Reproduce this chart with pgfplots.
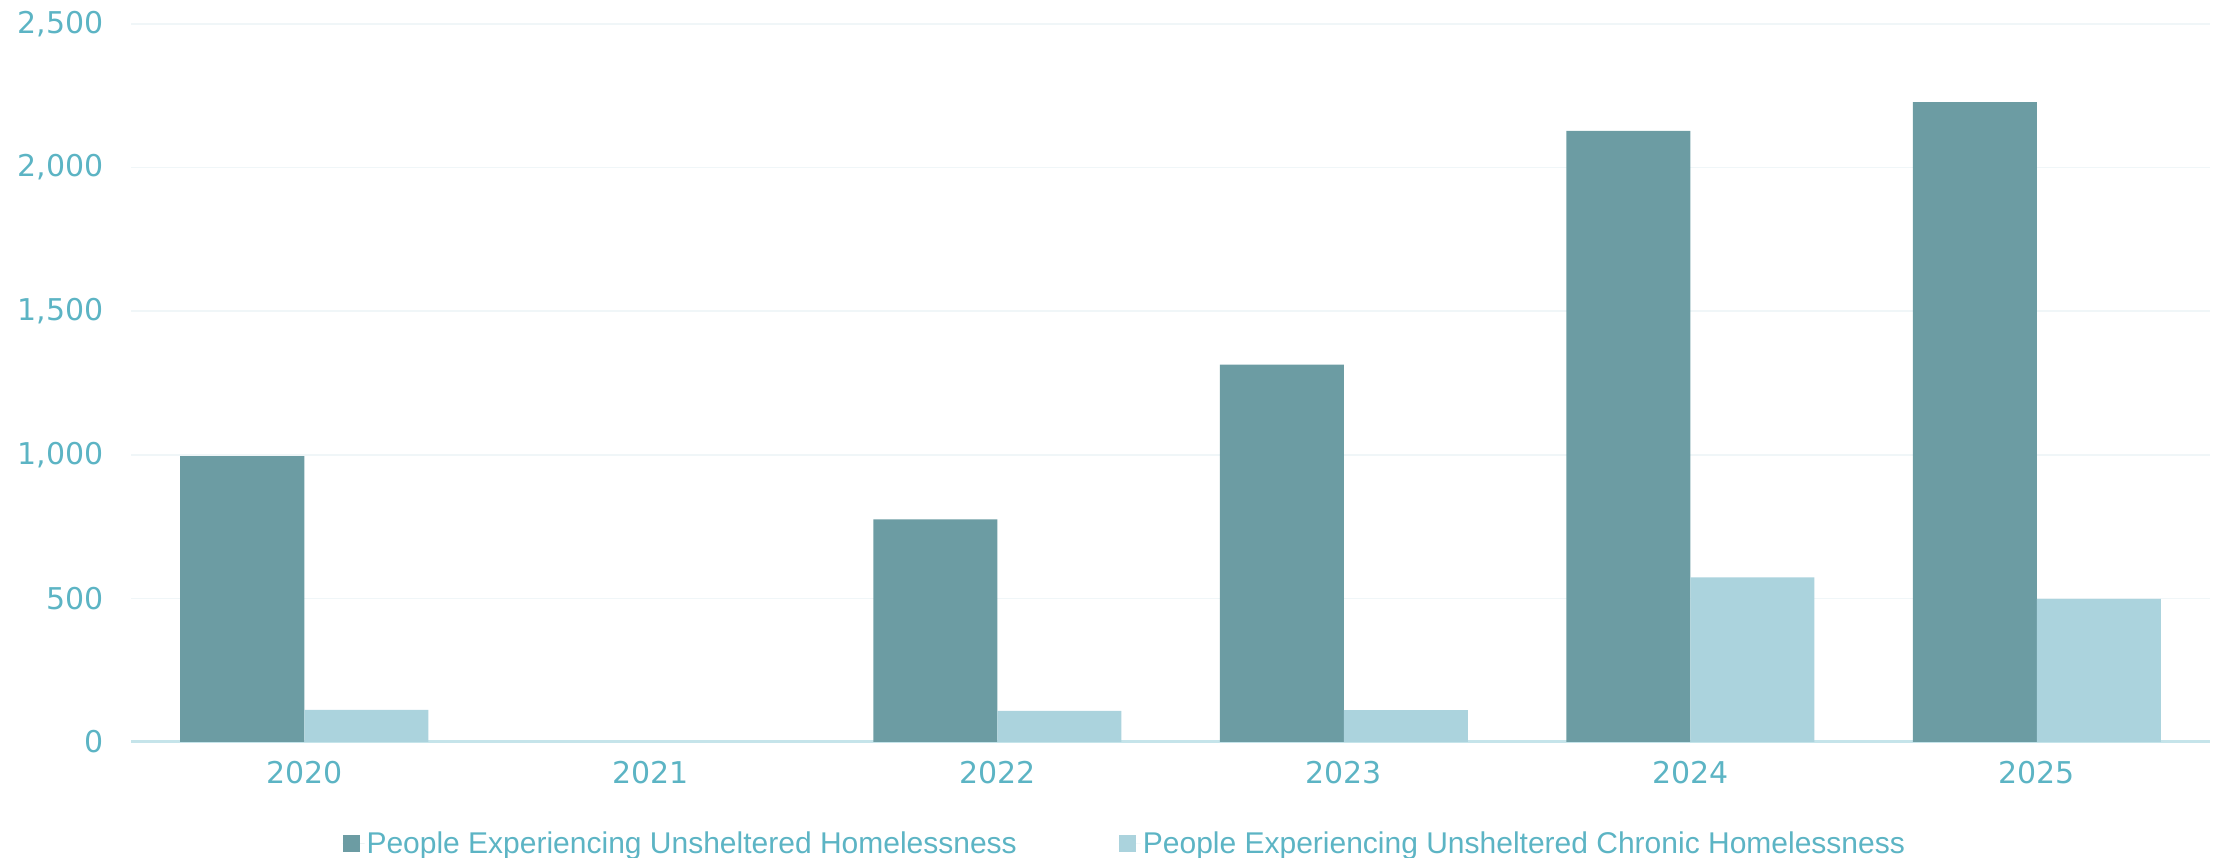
\documentclass[border=0pt]{standalone}
\usepackage{pgfplots}
\pgfplotsset{compat=1.18}
\usepackage{fontspec}
\setmainfont{Liberation Sans}
\newfontfamily\tickfont{DejaVu Sans}
\definecolor{darkbar}{RGB}{108,156,163}
\definecolor{lightbar}{RGB}{171,211,221}
\definecolor{txt}{RGB}{92,180,196}
\definecolor{axcol}{RGB}{197,228,234}
\definecolor{gridcol}{RGB}{240,246,248}
\begin{document}
\begin{tikzpicture}
\useasboundingbox (0,0) rectangle (2221pt,858pt);
\begin{axis}[
 at={(131pt,116pt)}, anchor=south west,
 scale only axis, width=2079pt, height=718pt,
 xmin=-0.5, xmax=5.5, ymin=0, ymax=2500,
 ybar=0pt, bar width=124pt,
 xtick={0,...,5}, xticklabels={2020,2021,2022,2023,2024,2025},
 ytick={0,500,...,2500},
 ymajorgrids, major grid style={draw=gridcol, line width=1.5pt},
 axis x line*=bottom, axis y line*=left,
 x axis line style={draw=axcol, line width=3pt, -},
 y axis line style={draw=none},
 major tick length=0pt,
 tick style={draw=none},
 ticklabel style={font=\tickfont\fontsize{30}{36}\selectfont, text=txt},
 /pgf/number format/assume math mode=true,
 /pgf/number format/1000 sep={,},
 yticklabel style={xshift=-24pt},
 xticklabel style={yshift=-16pt},
 legend columns=2,
 legend style={draw=none, fill=none, at={(0.478,-0.1407)}, anchor=center, font=\fontsize{30}{36}\selectfont, text=txt, /tikz/every even column/.append style={column sep=100pt}},
 legend image code/.code={\fill[#1] (0pt,-8.5pt) rectangle (17pt,8.5pt); \path (0pt,0pt) -- (22pt,0pt);},
]
\addplot[fill=darkbar, draw=none] coordinates {(0,995) (2,775) (3,1314) (4,2128) (5,2228)};
\addplot[fill=lightbar, draw=none] coordinates {(0,112) (2,108) (3,111) (4,573) (5,498)};
\legend{People Experiencing Unsheltered Homelessness, People Experiencing Unsheltered Chronic Homelessness}
\end{axis}
\end{tikzpicture}
\end{document}
